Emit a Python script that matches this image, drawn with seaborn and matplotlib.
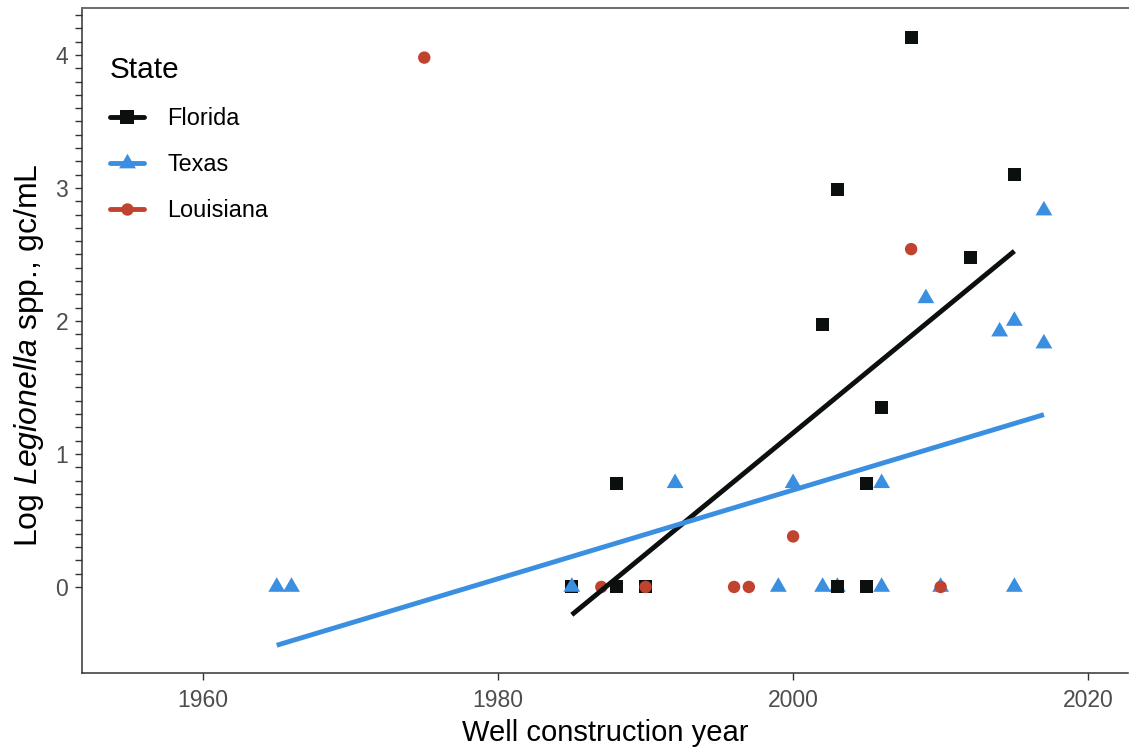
import numpy as np
import pandas as pd
import matplotlib
matplotlib.use('Agg')
import matplotlib.pyplot as plt
from matplotlib.lines import Line2D
from matplotlib.ticker import FixedLocator
import seaborn as sns

# one row per well, in drawing order
state = ['Florida'] * 10 + ['Texas'] * 17 + ['Florida'] + ['Louisiana'] * 8 + ['Florida'] * 3
year = [1985, 1988, 1988, 1990, 2002, 2003, 2005, 2005, 2005, 2006,
        1965, 1966, 1985, 1992, 1999, 2000, 2002, 2003, 2006, 2006,
        2009, 2010, 2014, 2015, 2015, 2017, 2017,
        2003,
        1975, 1987, 1990, 1996, 1997, 2000, 2008, 2010,
        2008, 2012, 2015]
log_conc = [0, 0, 0.78, 0, 1.97, 2.99, 0.78, 0, 0, 1.35,
            0, 0, 0, 0.78, 0, 0.78, 0, 0, 0.78, 0,
            2.17, 0, 1.92, 2.0, 0, 2.83, 1.83,
            0,
            3.98, 0, 0, 0, 0, 0.38, 2.54, 0,
            4.13, 2.48, 3.10]

states = ['Florida', 'Texas', 'Louisiana']
fitted = ['Florida', 'Texas']
colors = {'Florida': '#0b0f0d', 'Texas': '#3b8fe0', 'Louisiana': '#c0432f'}
tri = [(-1, -0.577), (1, -0.577), (0, 1.155)]
markers = {'Florida': 's', 'Texas': tri, 'Louisiana': 'o'}
msizes = {'Florida': 88, 'Texas': 196, 'Louisiana': 80}

df = pd.DataFrame({'state': state, 'year': year, 'log_conc': log_conc})

sns.set_style('ticks')
plt.rcParams['font.family'] = ['Liberation Sans', 'DejaVu Sans']
plt.rcParams['mathtext.fontset'] = 'custom'
plt.rcParams['mathtext.rm'] = 'Liberation Sans'
plt.rcParams['mathtext.it'] = 'Liberation Sans:italic'

fig = plt.figure(figsize=(11.3, 7.5), dpi=100)
ax = fig.add_axes([82 / 1130, 77 / 750, 1046 / 1130, 665 / 750])

sns.scatterplot(data=df, x='year', y='log_conc', hue='state', style='state', size='state',
                hue_order=states, palette=colors, markers=markers, sizes=msizes,
                linewidth=0, legend=False, ax=ax, zorder=2)

for st in fitted:
    sub = df[df['state'] == st]
    sns.regplot(data=sub, x='year', y='log_conc', scatter=False, ci=None, truncate=True,
                color=colors[st], line_kws=dict(lw=3.5, zorder=3, solid_capstyle='butt'), ax=ax)

ax.set_xlim(1951.8, 2022.7)
ax.set_ylim(-0.647, 4.353)
ax.set_xticks([1960, 1980, 2000, 2020])
ax.set_yticks([0, 1, 2, 3, 4])
ax.yaxis.set_minor_locator(FixedLocator(np.round(np.arange(0, 4.31, 0.1), 1)))

for side in ['left', 'bottom']:
    ax.spines[side].set_color('#333333')
    ax.spines[side].set_linewidth(1.1)
ax.spines['top'].set_visible(True)
ax.spines['top'].set_color('#6b6b6b')
ax.spines['top'].set_linewidth(1.4)
ax.spines['right'].set_visible(False)

ax.tick_params(axis='both', which='both', length=5, width=1.0, color='#333333',
               labelsize=16.5, labelcolor='#4d4d4d')
ax.tick_params(axis='x', which='both', pad=6.5)
ax.tick_params(axis='y', which='both', pad=5)

ax.set_xlabel('Well construction year', fontsize=21, color='black', labelpad=5)
ax.set_ylabel(r'Log $\mathit{Legionella}$ spp., gc/mL', fontsize=23, color='black')
ax.yaxis.set_label_coords(-0.034, 0.478)

handles = [Line2D([], [], color=colors[st], lw=3.5, marker=markers[st],
                  markersize=np.sqrt(msizes[st]), markeredgewidth=0) for st in states]
leg = ax.legend(handles, states, title='State', loc='upper left',
                bbox_to_anchor=(0.0268, 0.928), borderaxespad=0, borderpad=0,
                frameon=False, fontsize=16.9, title_fontsize=21.4, handlelength=1.45,
                handletextpad=1.0, labelspacing=0.98, alignment='left')
leg.get_title().set_color('black')
for t in leg.get_texts():
    t.set_color('black')

fig.savefig('out.png', dpi=100)
